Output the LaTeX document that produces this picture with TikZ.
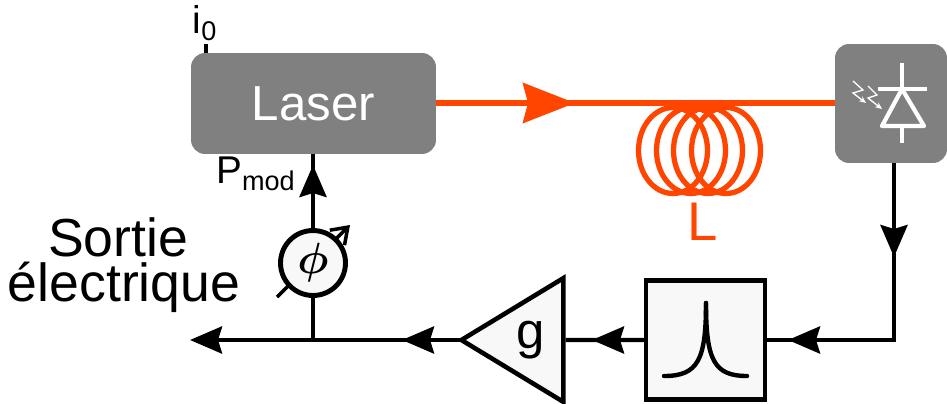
\documentclass[tikz,border=0pt]{standalone}
\usepackage{fontspec}
\setmainfont{Liberation Sans}
\usepackage{amsmath}
\usetikzlibrary{shapes.geometric, arrows.meta, positioning, calc}
\definecolor{mygray}{RGB}{128,128,128}
\definecolor{myorange}{RGB}{255,69,0}
\definecolor{mylight}{RGB}{248,248,248}
\tikzset{
  devbox/.style={rectangle, fill=mygray, rounded corners=0.28cm, inner sep=0pt},
  filterbox/.style={rectangle, draw=black, fill=mylight, line width=2.8pt, inner sep=0pt,
    minimum width=2.38cm, minimum height=2.38cm},
  ampbox/.style={isosceles triangle, shape border rotate=180, isosceles triangle apex angle=62.5,
    draw=black, fill=mylight, line width=2.6pt, inner sep=0pt, minimum height=2.04cm, font=\fontsize{29}{29}\selectfont},
  phasebox/.style={circle, draw=black, fill=mylight, line width=2.8pt, inner sep=0pt,
    minimum size=1.3cm, font=\fontsize{35}{35}\selectfont},
  arrow/.style={-{Stealth[length=0.64cm, width=0.54cm, inset=0.08cm]}, line width=2.5pt, color=black},
  fibrearrow/.style={-{Stealth[length=1.04cm, width=0.8cm, inset=0.1cm]}, line width=3pt, color=myorange},
  line/.style={line width=2.5pt, color=black},
  fibre/.style={line width=3pt, color=myorange},
  lighttick/.style={-{Stealth[length=0.14cm, width=0.12cm]}, line width=0.75pt, color=white},
  pdline/.style={line width=2.4pt, color=white, line join=round}
}
\begin{document}
\begin{tikzpicture}[x=0.02cm, y=-0.02cm]
  \useasboundingbox (0,0) rectangle (947,403);

  % Phase shifter knob
  \draw[-{Straight Barb[length=0.3cm, width=0.42cm]}, line width=2pt] (277,297) -- (350,225);

  % Blocks
  \node[devbox, minimum width=4.9cm, minimum height=2.02cm, text=white, font=\fontsize{28}{28}\selectfont] (laser) at (313.5,103.5) {Laser};
  \node[devbox, minimum width=2.24cm, minimum height=2.38cm] (pd) at (891,103.5) {};
  \node[filterbox] (filter) at (705.5,340) {};
  \node[ampbox, anchor=apex] (amp) at (457,340) {g\hspace*{0.12cm}};
  \node[phasebox] (phase) at (313,263) {$\boldsymbol{\phi}$};

  % Fixed points of the loop
  \coordinate (i0) at (206,44);
  \coordinate (fibretip) at (575,103);
  \coordinate (downtip) at (894,257);
  \coordinate (corner) at (894,340);
  \coordinate (intip) at (788,340);
  \coordinate (midtip) at (592,340);
  \coordinate (outtip) at (402,340);
  \coordinate (tee) at (313,340);
  \coordinate (endtip) at (190,340);
  \coordinate (uptip) at (313,165);

  % Optical path
  \draw[fibre] (laser.east |- fibretip) -- (pd.west |- fibretip);
  \draw[fibrearrow] (laser.east |- fibretip) -- (fibretip);
  \foreach \cx in {673,691,708,726}
    \draw[fibre] (\cx,150.5) ellipse [x radius=34.5, y radius=43];
  \node[text=myorange, font=\fontsize{31}{31}\selectfont] (lenlabel) at (703,222) {L};

  % Electrical loop
  \draw[line] (pd.south -| corner) -- (corner) -- (filter.east);
  \draw[arrow] (pd.south -| corner) -- (downtip);
  \draw[arrow] (corner) -- (intip);
  \draw[line] (filter.west) -- (amp.east);
  \draw[arrow] (filter.west) -- (midtip);
  \draw[arrow, shorten <=-0.12cm] (amp.apex) -- (outtip);
  \draw[arrow, shorten <=-0.12cm] (amp.apex) -- (endtip);
  \draw[line] (tee) -- (phase);
  \draw[line] (phase) -- (laser.south -| uptip);
  \draw[arrow] (phase) -- (uptip);
  \draw[line] (i0) -- (laser.north -| i0);

  % Filter response
  \draw[line, line cap=round] (664,376) .. controls (698,376) and (706,360) .. (706,303);
  \draw[line, line cap=round] (747,376) .. controls (714,376) and (706,360) .. (706,303);

  % Photodiode
  \draw[pdline] (902,63) -- (902,89);
  \draw[pdline] (878,89) -- (927,89);
  \draw[pdline] (902,89) -- (882,126) -- (924,126) -- cycle;
  \draw[pdline] (902,126) -- (902,143);
  \draw[lighttick] (853,81) -- (863,90) -- (853,93) -- (866,103);
  \draw[lighttick] (868,86) -- (877,95) -- (868,98) -- (882,109);

  % Labels
  \node[font=\fontsize{22}{22}\selectfont] (ilabel) at (205,23) {i\textsubscript{0}};
  \node[font=\fontsize{22}{22}\selectfont] (plabel) at (256,174) {P\textsubscript{mod}};
  \node[font=\fontsize{30.5}{30.5}\selectfont, align=center] (outlabel) at (124,265) {Sortie\hspace*{0.24cm}\\[-5pt]électrique};
\end{tikzpicture}
\end{document}
